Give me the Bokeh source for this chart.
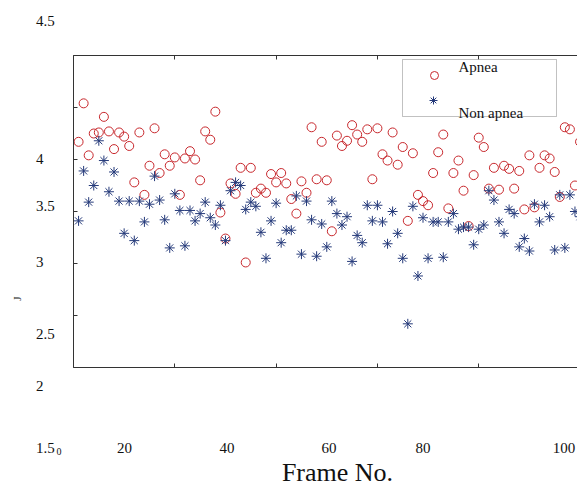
import math
from bokeh.plotting import figure
from bokeh.models import (Range1d, LinearAxis, FixedTicker, CustomJSTickFormatter, Label,
                          BoxAnnotation, Legend, LegendItem, Grid)
from bokeh.core.properties import value
from bokeh.embed import file_html
from bokeh.resources import INLINE

frames = list(range(1, 101))

apnea = [4.17, 4.54, 4.04, 4.25, 4.26, 4.41, 4.27, 4.10, 4.26, 4.22,
         4.13, 3.78, 4.26, 3.66, 3.94, 4.30, 3.87, 4.05, 3.94, 4.02,
         3.66, 4.01, 4.08, 4.00, 3.80, 4.27, 4.19, 4.46, 3.49, 3.24,
         3.77, 3.67, 3.92, 3.01, 3.92, 3.68, 3.72, 3.68, 3.86, 3.78,
         3.87, 3.77, 3.62, 3.48, 3.79, 3.68, 4.31, 3.81, 4.17, 3.80,
         3.31, 4.23, 4.13, 4.18, 4.33, 4.24, 4.17, 4.29, 3.81, 4.30,
         4.05, 3.99, 4.26, 3.95, 4.12, 3.41, 4.06, 3.66, 3.60, 3.56,
         3.87, 4.07, 4.24, 3.53, 3.87, 3.99, 3.70, 3.36, 3.85, 4.21,
         4.12, 3.72, 3.92, 3.71, 3.94, 3.91, 3.72, 3.89, 3.52, 4.04,
         3.54, 3.92, 4.04, 4.01, 3.88, 3.64, 4.31, 4.29, 3.75, 4.17]

non_apnea = [3.41, 3.89, 3.59, 3.75, 4.18, 3.99, 3.69, 3.88, 3.60, 3.29,
             3.60, 3.22, 3.60, 3.40, 3.57, 3.84, 3.61, 3.42, 3.15, 3.67,
             3.51, 3.17, 3.51, 3.41, 3.48, 3.59, 3.44, 3.37, 3.56, 3.22,
             3.70, 3.78, 3.75, 3.52, 3.59, 3.55, 3.30, 3.05, 3.41, 3.58,
             3.20, 3.32, 3.32, 3.65, 3.09, 3.60, 3.42, 3.07, 3.38, 3.16,
             3.60, 3.48, 3.37, 3.45, 3.02, 3.27, 3.20, 3.56, 3.41, 3.56,
             3.40, 3.19, 3.50, 3.29, 3.05, 2.42, 3.55, 2.88, 3.44, 3.05,
             3.40, 3.40, 3.06, 3.40, 3.48, 3.33, 3.35, 3.35, 3.18, 3.33,
             3.37, 3.70, 3.61, 3.40, 3.29, 3.52, 3.48, 3.16, 3.24, 3.12,
             3.57, 3.40, 3.56, 3.45, 3.13, 3.66, 3.15, 3.66, 3.50, 3.45]

x_ticks = [0, 20, 40, 60, 80, 100]
y_ticks = [2, 2.5, 3, 3.5, 4, 4.5, 5]
x_tick_labels = ["20", "40", "60", "80", "100"]
y_tick_labels = ["4.5", "4", "3.5", "3", "2.5", "2", "1.5"]
series_names = ["Apnea", "Non apnea"]
x_title = "Frame No."
y_title = "J"

RED = "#c8282d"
NAVY = "#253a7a"
AX = "#333333"
FONT = "Liberation Serif"

W, H = 577, 491
X_END = 99.5
Y0, Y1 = 2.0, 5.0
FL, FT, FB = 73, 55, 367          # where the drawn box sits on the canvas
XS = (W - FL) / X_END             # px per frame
YS = (FB - FT) / (Y1 - Y0)        # px per unit of J

# the frame covers the whole canvas; the box is drawn by fixed-location axes
x_range = Range1d(-FL / XS, X_END)
y_range = Range1d(Y0 - (H - FB) / YS, Y1 + FT / YS)
p = figure(width=W, height=H, x_range=x_range, y_range=y_range,
           output_backend="svg", toolbar_location=None,
           min_border_left=0, min_border_right=0, min_border_top=0, min_border_bottom=0,
           x_axis_location=None, y_axis_location=None)
p.outline_line_color = None
p.background_fill_color = "white"
p.border_fill_color = "white"
for r in list(p.center):
    if isinstance(r, Grid):
        r.visible = False

blank = CustomJSTickFormatter(code="return ''")
def make_axis(ticks, loc, bounds):
    return LinearAxis(ticker=FixedTicker(ticks=ticks), formatter=blank,
                      fixed_location=loc, bounds=bounds,
                      major_tick_in=4, major_tick_out=0, minor_tick_line_color=None,
                      axis_line_color=AX, major_tick_line_color=AX, axis_line_width=1,
                      major_label_standoff=0)
p.add_layout(make_axis(y_ticks, 0, (Y0, Y1)), "left")
p.add_layout(make_axis(x_ticks, Y0, (0, X_END)), "below")
p.add_layout(make_axis(x_ticks, Y1, (0, X_END)), "above")

r1 = p.scatter(frames, apnea, marker="circle", size=9, fill_color=None,
               line_color=RED, line_width=1)
r2 = p.scatter(frames, non_apnea, marker="asterisk", size=10,
               line_color=NAVY, line_width=1)

# canvas pixel -> data helpers for text placement
def xd(px):
    return (px - FL) / XS
def yd(py):
    return Y1 - (py - FT) / YS

# legend box
p.add_layout(BoxAnnotation(left=xd(402), right=xd(556), top=yd(59), bottom=yd(116),
                           fill_color="white", fill_alpha=1.0, line_color=AX, line_width=1))

common = dict(border_line_color=None, background_fill_alpha=0, padding=0, margin=0,
              spacing=0, glyph_width=20, glyph_height=20, label_standoff=0,
              label_text_font=FONT, label_text_font_size="1px", label_width=0)
legA = Legend(items=[LegendItem(label=value(""), renderers=[r1])],
              location=(424, H - 85), **common)
legB = Legend(items=[LegendItem(label=value(""), renderers=[r2])],
              location=(423, H - 110), **common)
p.add_layout(legA)
p.add_layout(legB)

def lab(text, px, py, size="15px", align="left", angle=0.0):
    p.add_layout(Label(x=xd(px), y=yd(py), text=text, text_font=FONT,
                       text_font_size=size, text_align=align, text_baseline="middle",
                       text_color="#111111", angle=angle))

lab(series_names[0], 458, 66)
lab(series_names[1], 458, 112)

y_label_py = [20, 158, 205, 261, 333, 385, 447]
for t, py in zip(y_tick_labels, y_label_py):
    lab(t, 35.5, py)
lab("0", 56, 451, size="10px")
x_label_px = [124, 226.5, 328.5, 422.5, 563.5]
for t, px in zip(x_tick_labels, x_label_px):
    lab(t, px, 447, align="center")
lab(x_title, 337, 472, size="26px", align="center")
lab(y_title, 16, 298, size="11px", align="center", angle=math.pi / 2)

open("out.html", "w").write(file_html(p, INLINE))
